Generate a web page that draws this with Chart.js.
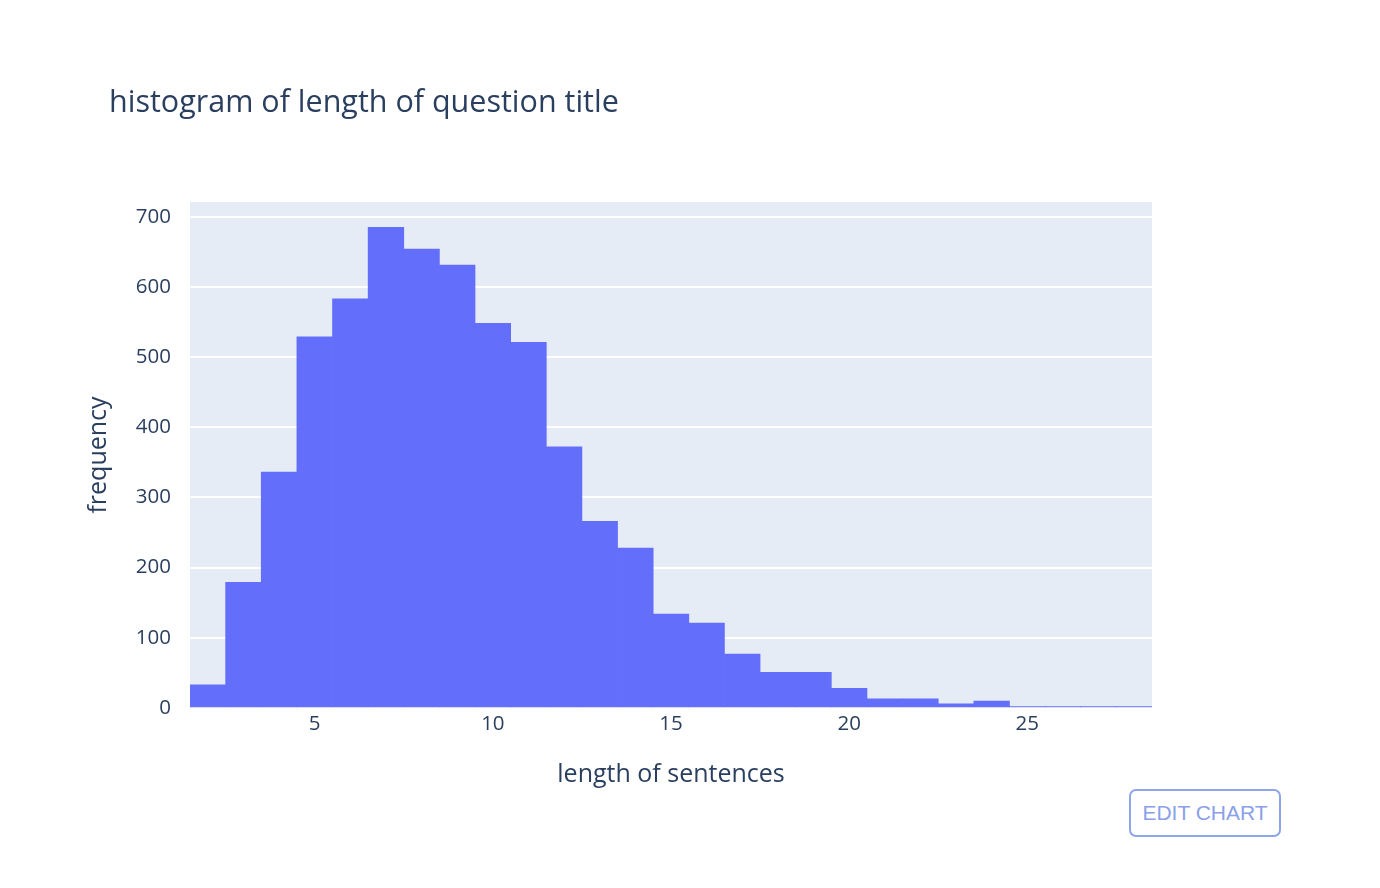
<!DOCTYPE html>
<html>
<head>
<meta charset="utf-8">
<title>histogram of length of question title</title>
<script src="https://cdn.jsdelivr.net/npm/chart.js@4.4.1/dist/chart.umd.min.js"></script>
<style>
  html, body { margin: 0; padding: 0; background: #fff; }
  #wrap { position: relative; width: 1380px; height: 888px; }
  #editBtn {
    position: absolute; left: 1129px; top: 789px; width: 148px; height: 44px;
    border: 2px solid #8fa5ea; border-radius: 7px; background: #fff;
    color: #8aa0e8; font-family: "Liberation Sans", Arial, sans-serif; font-size: 21px;
    line-height: 44px; text-align: center;
  }
</style>
</head>
<body>
<div id="wrap">
  <canvas id="myChart" width="1380" height="888"></canvas>
  <div id="editBtn">EDIT CHART</div>
</div>
<script>
// bin centres (length of sentences) and counts per bin
const lengths = [2, 3, 4, 5, 6, 7, 8, 9, 10, 11, 12, 13, 14, 15, 16, 17, 18, 19, 20, 21, 22, 23, 24, 25, 26, 27, 28];
const counts = [33, 179, 336, 529, 583, 685, 654, 631, 548, 521, 372, 266, 228, 134, 121, 77, 51, 51, 28, 13, 13, 6, 10, 2, 2, 2, 2];
const xTickLabels = [5, 10, 15, 20, 25];

const textColor = '#2a3f5f';

// plot background + title, drawn on the canvas
const plotBg = {
  id: 'plotBg',
  beforeDraw(chart) {
    const {ctx, chartArea: a} = chart;
    ctx.save();
    ctx.fillStyle = '#e5ecf6';
    ctx.fillRect(a.left, a.top, a.right - a.left, a.bottom - a.top);
    ctx.restore();
  },
  afterDraw(chart) {
    const ctx = chart.ctx;
    ctx.save();
    ctx.fillStyle = textColor;
    ctx.font = '30.5px "Open Sans"';
    ctx.textBaseline = 'alphabetic';
    ctx.fillText('histogram of length of question title', 109, 112);
    ctx.restore();
  }
};

const config = {
  type: 'bar',
  data: {
    labels: lengths,
    datasets: [{
      label: 'frequency',
      data: counts,
      backgroundColor: '#636efa',
      borderWidth: 0,
      barPercentage: 1,
      categoryPercentage: 1
    }]
  },
  options: {
    responsive: false,
    animation: false,
    layout: { padding: { top: 202, right: 228, left: 0, bottom: 0 } },
    plugins: {
      legend: { display: false },
      tooltip: { enabled: false }
    },
    scales: {
      x: {
        grid: { display: false, drawTicks: false },
        border: { display: false },
        ticks: {
          autoSkip: false,
          maxRotation: 0,
          padding: 4,
          color: textColor,
          font: { family: 'Open Sans', size: 20.5 },
          callback: function (v) {
            const l = lengths[v];
            return xTickLabels.includes(l) ? String(l) : '';
          }
        },
        title: {
          display: true,
          text: 'length of sentences',
          color: textColor,
          font: { family: 'Open Sans', size: 25 },
          padding: { top: 0, bottom: 98 }
        },
        afterFit(scale) { scale.height = 180; }
      },
      y: {
        min: 0,
        max: 721,
        grid: { color: '#ffffff', lineWidth: 2, drawTicks: false },
        border: { display: false },
        ticks: {
          stepSize: 100,
          includeBounds: false,
          padding: 19,
          color: textColor,
          font: { family: 'Open Sans', size: 20.5 }
        },
        title: {
          display: true,
          text: 'frequency',
          color: textColor,
          font: { family: 'Open Sans', size: 25 },
          padding: { top: 84, bottom: 0 }
        },
        afterFit(scale) { scale.width = 190; }
      }
    }
  },
  plugins: [plotBg]
};

var ctx = document.getElementById('myChart').getContext('2d');
grafica = new Chart(ctx, config);
</script>
</body>
</html>
